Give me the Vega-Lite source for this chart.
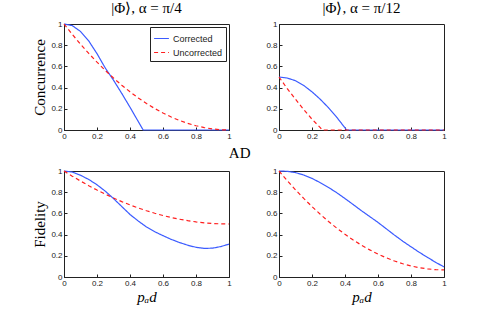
{
  "$schema": "https://vega.github.io/schema/vega-lite/v6.json",
  "background": "white",
  "padding": {"left": 32, "top": 0, "right": 5, "bottom": 5},
  "spacing": 4,
  "config": {
    "view": {"stroke": "#222", "strokeWidth": 1},
    "axis": {
      "labelFont": "Liberation Sans", "labelFontSize": 8, "labelColor": "#222",
      "tickColor": "#222", "tickSize": -3, "tickWidth": 1, "labelPadding": 5, "domainColor": "#222",
      "titleFont": "Liberation Serif", "titleFontWeight": "normal", "titleFontSize": 15, "titleColor": "black",
      "grid": false, "labelExpr": "'' + datum.value", "labelFlush": false
    },
    "title": {"font": "Liberation Serif", "fontWeight": "normal", "fontSize": 15, "color": "black", "offset": 4},
    "legend": {"labelFont": "Liberation Sans", "labelFontSize": 9, "labelColor": "#222"}
  },
  "datasets": {
    "d": [
      {"panel": "C4", "s": "Corrected", "p": 0, "v": 1},
      {"panel": "C4", "s": "Corrected", "p": 0.05, "v": 0.985},
      {"panel": "C4", "s": "Corrected", "p": 0.1, "v": 0.93},
      {"panel": "C4", "s": "Corrected", "p": 0.15, "v": 0.84},
      {"panel": "C4", "s": "Corrected", "p": 0.2, "v": 0.72},
      {"panel": "C4", "s": "Corrected", "p": 0.25, "v": 0.585},
      {"panel": "C4", "s": "Corrected", "p": 0.3, "v": 0.47},
      {"panel": "C4", "s": "Corrected", "p": 0.35, "v": 0.345},
      {"panel": "C4", "s": "Corrected", "p": 0.4, "v": 0.215},
      {"panel": "C4", "s": "Corrected", "p": 0.45, "v": 0.08},
      {"panel": "C4", "s": "Corrected", "p": 0.48, "v": 0},
      {"panel": "C4", "s": "Corrected", "p": 0.6, "v": 0},
      {"panel": "C4", "s": "Corrected", "p": 0.8, "v": 0},
      {"panel": "C4", "s": "Corrected", "p": 1, "v": 0},
      {"panel": "C4", "s": "Uncorrected", "p": 0, "v": 1},
      {"panel": "C4", "s": "Uncorrected", "p": 0.05, "v": 0.9025},
      {"panel": "C4", "s": "Uncorrected", "p": 0.1, "v": 0.81},
      {"panel": "C4", "s": "Uncorrected", "p": 0.15, "v": 0.7225},
      {"panel": "C4", "s": "Uncorrected", "p": 0.2, "v": 0.64},
      {"panel": "C4", "s": "Uncorrected", "p": 0.25, "v": 0.5625},
      {"panel": "C4", "s": "Uncorrected", "p": 0.3, "v": 0.49},
      {"panel": "C4", "s": "Uncorrected", "p": 0.35, "v": 0.4225},
      {"panel": "C4", "s": "Uncorrected", "p": 0.4, "v": 0.36},
      {"panel": "C4", "s": "Uncorrected", "p": 0.45, "v": 0.3025},
      {"panel": "C4", "s": "Uncorrected", "p": 0.5, "v": 0.25},
      {"panel": "C4", "s": "Uncorrected", "p": 0.55, "v": 0.2025},
      {"panel": "C4", "s": "Uncorrected", "p": 0.6, "v": 0.16},
      {"panel": "C4", "s": "Uncorrected", "p": 0.65, "v": 0.1225},
      {"panel": "C4", "s": "Uncorrected", "p": 0.7, "v": 0.09},
      {"panel": "C4", "s": "Uncorrected", "p": 0.75, "v": 0.0625},
      {"panel": "C4", "s": "Uncorrected", "p": 0.8, "v": 0.04},
      {"panel": "C4", "s": "Uncorrected", "p": 0.85, "v": 0.0225},
      {"panel": "C4", "s": "Uncorrected", "p": 0.9, "v": 0.01},
      {"panel": "C4", "s": "Uncorrected", "p": 0.95, "v": 0.0025},
      {"panel": "C4", "s": "Uncorrected", "p": 1, "v": 0},

      {"panel": "C12", "s": "Corrected", "p": 0, "v": 0.5},
      {"panel": "C12", "s": "Corrected", "p": 0.05, "v": 0.49},
      {"panel": "C12", "s": "Corrected", "p": 0.1, "v": 0.465},
      {"panel": "C12", "s": "Corrected", "p": 0.15, "v": 0.42},
      {"panel": "C12", "s": "Corrected", "p": 0.2, "v": 0.36},
      {"panel": "C12", "s": "Corrected", "p": 0.25, "v": 0.29},
      {"panel": "C12", "s": "Corrected", "p": 0.3, "v": 0.21},
      {"panel": "C12", "s": "Corrected", "p": 0.35, "v": 0.12},
      {"panel": "C12", "s": "Corrected", "p": 0.4, "v": 0.02},
      {"panel": "C12", "s": "Corrected", "p": 0.41, "v": 0},
      {"panel": "C12", "s": "Corrected", "p": 0.6, "v": 0},
      {"panel": "C12", "s": "Corrected", "p": 0.8, "v": 0},
      {"panel": "C12", "s": "Corrected", "p": 1, "v": 0},
      {"panel": "C12", "s": "Uncorrected", "p": 0, "v": 0.5},
      {"panel": "C12", "s": "Uncorrected", "p": 0.05, "v": 0.39},
      {"panel": "C12", "s": "Uncorrected", "p": 0.1, "v": 0.29},
      {"panel": "C12", "s": "Uncorrected", "p": 0.15, "v": 0.192},
      {"panel": "C12", "s": "Uncorrected", "p": 0.2, "v": 0.102},
      {"panel": "C12", "s": "Uncorrected", "p": 0.25, "v": 0.022},
      {"panel": "C12", "s": "Uncorrected", "p": 0.262, "v": 0},
      {"panel": "C12", "s": "Uncorrected", "p": 0.4, "v": 0},
      {"panel": "C12", "s": "Uncorrected", "p": 0.6, "v": 0},
      {"panel": "C12", "s": "Uncorrected", "p": 0.8, "v": 0},
      {"panel": "C12", "s": "Uncorrected", "p": 1, "v": 0},

      {"panel": "F4", "s": "Corrected", "p": 0, "v": 1},
      {"panel": "F4", "s": "Corrected", "p": 0.05, "v": 0.99},
      {"panel": "F4", "s": "Corrected", "p": 0.1, "v": 0.96},
      {"panel": "F4", "s": "Corrected", "p": 0.15, "v": 0.92},
      {"panel": "F4", "s": "Corrected", "p": 0.2, "v": 0.87},
      {"panel": "F4", "s": "Corrected", "p": 0.25, "v": 0.81},
      {"panel": "F4", "s": "Corrected", "p": 0.3, "v": 0.74},
      {"panel": "F4", "s": "Corrected", "p": 0.35, "v": 0.665},
      {"panel": "F4", "s": "Corrected", "p": 0.4, "v": 0.59},
      {"panel": "F4", "s": "Corrected", "p": 0.45, "v": 0.528},
      {"panel": "F4", "s": "Corrected", "p": 0.5, "v": 0.472},
      {"panel": "F4", "s": "Corrected", "p": 0.55, "v": 0.427},
      {"panel": "F4", "s": "Corrected", "p": 0.6, "v": 0.39},
      {"panel": "F4", "s": "Corrected", "p": 0.65, "v": 0.355},
      {"panel": "F4", "s": "Corrected", "p": 0.7, "v": 0.325},
      {"panel": "F4", "s": "Corrected", "p": 0.75, "v": 0.3},
      {"panel": "F4", "s": "Corrected", "p": 0.8, "v": 0.28},
      {"panel": "F4", "s": "Corrected", "p": 0.85, "v": 0.27},
      {"panel": "F4", "s": "Corrected", "p": 0.9, "v": 0.272},
      {"panel": "F4", "s": "Corrected", "p": 0.95, "v": 0.287},
      {"panel": "F4", "s": "Corrected", "p": 1, "v": 0.31},
      {"panel": "F4", "s": "Uncorrected", "p": 0, "v": 1},
      {"panel": "F4", "s": "Uncorrected", "p": 0.05, "v": 0.95125},
      {"panel": "F4", "s": "Uncorrected", "p": 0.1, "v": 0.905},
      {"panel": "F4", "s": "Uncorrected", "p": 0.15, "v": 0.86125},
      {"panel": "F4", "s": "Uncorrected", "p": 0.2, "v": 0.82},
      {"panel": "F4", "s": "Uncorrected", "p": 0.25, "v": 0.78125},
      {"panel": "F4", "s": "Uncorrected", "p": 0.3, "v": 0.745},
      {"panel": "F4", "s": "Uncorrected", "p": 0.35, "v": 0.71125},
      {"panel": "F4", "s": "Uncorrected", "p": 0.4, "v": 0.68},
      {"panel": "F4", "s": "Uncorrected", "p": 0.45, "v": 0.65125},
      {"panel": "F4", "s": "Uncorrected", "p": 0.5, "v": 0.625},
      {"panel": "F4", "s": "Uncorrected", "p": 0.55, "v": 0.60125},
      {"panel": "F4", "s": "Uncorrected", "p": 0.6, "v": 0.58},
      {"panel": "F4", "s": "Uncorrected", "p": 0.65, "v": 0.56125},
      {"panel": "F4", "s": "Uncorrected", "p": 0.7, "v": 0.545},
      {"panel": "F4", "s": "Uncorrected", "p": 0.75, "v": 0.53125},
      {"panel": "F4", "s": "Uncorrected", "p": 0.8, "v": 0.52},
      {"panel": "F4", "s": "Uncorrected", "p": 0.85, "v": 0.51125},
      {"panel": "F4", "s": "Uncorrected", "p": 0.9, "v": 0.505},
      {"panel": "F4", "s": "Uncorrected", "p": 0.95, "v": 0.50125},
      {"panel": "F4", "s": "Uncorrected", "p": 1, "v": 0.5},

      {"panel": "F12", "s": "Corrected", "p": 0, "v": 1},
      {"panel": "F12", "s": "Corrected", "p": 0.05, "v": 0.997},
      {"panel": "F12", "s": "Corrected", "p": 0.1, "v": 0.985},
      {"panel": "F12", "s": "Corrected", "p": 0.15, "v": 0.962},
      {"panel": "F12", "s": "Corrected", "p": 0.2, "v": 0.93},
      {"panel": "F12", "s": "Corrected", "p": 0.25, "v": 0.89},
      {"panel": "F12", "s": "Corrected", "p": 0.3, "v": 0.845},
      {"panel": "F12", "s": "Corrected", "p": 0.35, "v": 0.795},
      {"panel": "F12", "s": "Corrected", "p": 0.4, "v": 0.74},
      {"panel": "F12", "s": "Corrected", "p": 0.45, "v": 0.683},
      {"panel": "F12", "s": "Corrected", "p": 0.5, "v": 0.625},
      {"panel": "F12", "s": "Corrected", "p": 0.55, "v": 0.57},
      {"panel": "F12", "s": "Corrected", "p": 0.6, "v": 0.515},
      {"panel": "F12", "s": "Corrected", "p": 0.65, "v": 0.455},
      {"panel": "F12", "s": "Corrected", "p": 0.7, "v": 0.395},
      {"panel": "F12", "s": "Corrected", "p": 0.75, "v": 0.338},
      {"panel": "F12", "s": "Corrected", "p": 0.8, "v": 0.285},
      {"panel": "F12", "s": "Corrected", "p": 0.85, "v": 0.233},
      {"panel": "F12", "s": "Corrected", "p": 0.9, "v": 0.185},
      {"panel": "F12", "s": "Corrected", "p": 0.95, "v": 0.138},
      {"panel": "F12", "s": "Corrected", "p": 1, "v": 0.095},
      {"panel": "F12", "s": "Uncorrected", "p": 0, "v": 1},
      {"panel": "F12", "s": "Uncorrected", "p": 0.05, "v": 0.909},
      {"panel": "F12", "s": "Uncorrected", "p": 0.1, "v": 0.8227},
      {"panel": "F12", "s": "Uncorrected", "p": 0.15, "v": 0.7411},
      {"panel": "F12", "s": "Uncorrected", "p": 0.2, "v": 0.6641},
      {"panel": "F12", "s": "Uncorrected", "p": 0.25, "v": 0.5918},
      {"panel": "F12", "s": "Uncorrected", "p": 0.3, "v": 0.5242},
      {"panel": "F12", "s": "Uncorrected", "p": 0.35, "v": 0.4612},
      {"panel": "F12", "s": "Uncorrected", "p": 0.4, "v": 0.4029},
      {"panel": "F12", "s": "Uncorrected", "p": 0.45, "v": 0.3492},
      {"panel": "F12", "s": "Uncorrected", "p": 0.5, "v": 0.3002},
      {"panel": "F12", "s": "Uncorrected", "p": 0.55, "v": 0.2559},
      {"panel": "F12", "s": "Uncorrected", "p": 0.6, "v": 0.2163},
      {"panel": "F12", "s": "Uncorrected", "p": 0.65, "v": 0.1813},
      {"panel": "F12", "s": "Uncorrected", "p": 0.7, "v": 0.151},
      {"panel": "F12", "s": "Uncorrected", "p": 0.75, "v": 0.1253},
      {"panel": "F12", "s": "Uncorrected", "p": 0.8, "v": 0.1043},
      {"panel": "F12", "s": "Uncorrected", "p": 0.85, "v": 0.088},
      {"panel": "F12", "s": "Uncorrected", "p": 0.9, "v": 0.0763},
      {"panel": "F12", "s": "Uncorrected", "p": 0.95, "v": 0.0693},
      {"panel": "F12", "s": "Uncorrected", "p": 1, "v": 0.067}
    ]
  },
  "resolve": {"scale": {"color": "independent", "strokeDash": "independent"}, "legend": {"color": "independent", "strokeDash": "independent"}},
  "vconcat": [
    {
      "spacing": 33,
      "resolve": {"scale": {"color": "independent", "strokeDash": "independent"}, "legend": {"color": "independent", "strokeDash": "independent"}},
      "hconcat": [
        {
          "width": 165, "height": 106,
          "title": "|Φ⟩, α = π/4",
          "data": {"name": "d"},
          "transform": [{"filter": "datum.panel == 'C4'"}],
          "mark": {"type": "line", "strokeWidth": 1.2},
          "encoding": {
            "x": {"field": "p", "type": "quantitative", "scale": {"domain": [0, 1]}, "axis": {"title": null, "values": [0, 0.2, 0.4, 0.6, 0.8, 1]}},
            "y": {"field": "v", "type": "quantitative", "scale": {"domain": [0, 1]}, "axis": {"title": "Concurrence", "titlePadding": 3, "values": [0, 0.2, 0.4, 0.6, 0.8, 1]}},
            "color": {"field": "s", "type": "nominal", "scale": {"domain": ["Corrected", "Uncorrected"], "range": ["#3b5bff", "#ff1f1f"]},
              "legend": {"title": null, "orient": "top-right", "offset": 3, "symbolType": "stroke", "symbolSize": 220, "symbolStrokeWidth": 1.2, "strokeColor": "#222", "fillColor": "white", "padding": 3, "rowPadding": -4, "labelOffset": 3, "labelFontSize": 9}},
            "strokeDash": {"field": "s", "type": "nominal", "scale": {"domain": ["Corrected", "Uncorrected"], "range": [[1, 0], [4, 3]]},
              "legend": {"title": null, "orient": "top-right", "offset": 3, "symbolType": "stroke", "symbolSize": 220, "symbolStrokeWidth": 1.2, "strokeColor": "#222", "fillColor": "white", "padding": 3, "rowPadding": -4, "labelOffset": 3, "labelFontSize": 9}}
          }
        },
        {
          "width": 165, "height": 106,
          "title": "|Φ⟩, α = π/12",
          "data": {"name": "d"},
          "transform": [{"filter": "datum.panel == 'C12'"}],
          "mark": {"type": "line", "strokeWidth": 1.2},
          "encoding": {
            "x": {"field": "p", "type": "quantitative", "scale": {"domain": [0, 1]}, "axis": {"title": null, "values": [0, 0.2, 0.4, 0.6, 0.8, 1]}},
            "y": {"field": "v", "type": "quantitative", "scale": {"domain": [0, 1]}, "axis": {"title": null, "values": [0, 0.2, 0.4, 0.6, 0.8, 1]}},
            "color": {"field": "s", "type": "nominal", "scale": {"domain": ["Corrected", "Uncorrected"], "range": ["#3b5bff", "#ff1f1f"]}, "legend": null},
            "strokeDash": {"field": "s", "type": "nominal", "scale": {"domain": ["Corrected", "Uncorrected"], "range": [[1, 0], [4, 3]]}, "legend": null}
          }
        }
      ]
    },
    {
      "spacing": 33,
      "title": {"text": "AD", "anchor": "middle", "offset": 6},
      "resolve": {"scale": {"color": "independent", "strokeDash": "independent"}, "legend": {"color": "independent", "strokeDash": "independent"}},
      "hconcat": [
        {
          "width": 165, "height": 106,
          "data": {"name": "d"},
          "transform": [{"filter": "datum.panel == 'F4'"}],
          "mark": {"type": "line", "strokeWidth": 1.2},
          "encoding": {
            "x": {"field": "p", "type": "quantitative", "scale": {"domain": [0, 1]}, "axis": {"title": "pₐd", "titleFontStyle": "italic", "titlePadding": 2, "values": [0, 0.2, 0.4, 0.6, 0.8, 1]}},
            "y": {"field": "v", "type": "quantitative", "scale": {"domain": [0, 1]}, "axis": {"title": "Fidelity", "titlePadding": 3, "values": [0, 0.2, 0.4, 0.6, 0.8, 1]}},
            "color": {"field": "s", "type": "nominal", "scale": {"domain": ["Corrected", "Uncorrected"], "range": ["#3b5bff", "#ff1f1f"]}, "legend": null},
            "strokeDash": {"field": "s", "type": "nominal", "scale": {"domain": ["Corrected", "Uncorrected"], "range": [[1, 0], [4, 3]]}, "legend": null}
          }
        },
        {
          "width": 165, "height": 106,
          "data": {"name": "d"},
          "transform": [{"filter": "datum.panel == 'F12'"}],
          "mark": {"type": "line", "strokeWidth": 1.2},
          "encoding": {
            "x": {"field": "p", "type": "quantitative", "scale": {"domain": [0, 1]}, "axis": {"title": "pₐd", "titleFontStyle": "italic", "titlePadding": 2, "values": [0, 0.2, 0.4, 0.6, 0.8, 1]}},
            "y": {"field": "v", "type": "quantitative", "scale": {"domain": [0, 1]}, "axis": {"title": null, "values": [0, 0.2, 0.4, 0.6, 0.8, 1]}},
            "color": {"field": "s", "type": "nominal", "scale": {"domain": ["Corrected", "Uncorrected"], "range": ["#3b5bff", "#ff1f1f"]}, "legend": null},
            "strokeDash": {"field": "s", "type": "nominal", "scale": {"domain": ["Corrected", "Uncorrected"], "range": [[1, 0], [4, 3]]}, "legend": null}
          }
        }
      ]
    }
  ]
}
